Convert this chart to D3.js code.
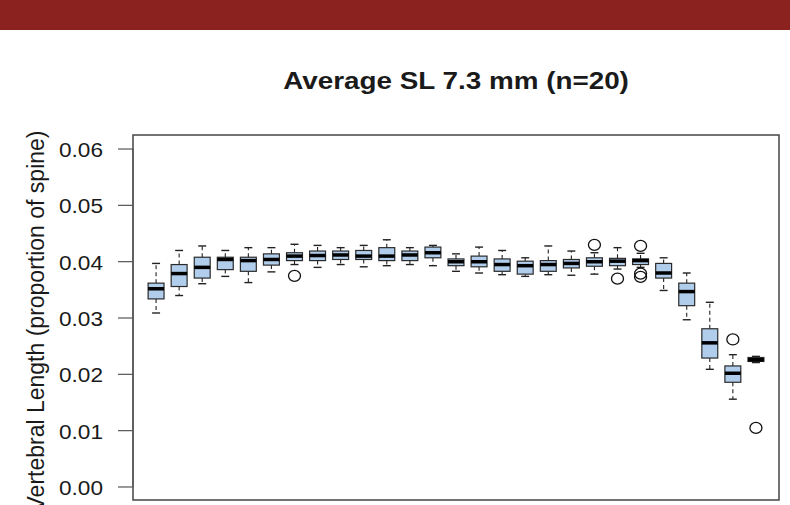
<!DOCTYPE html>
<html>
<head>
<meta charset="utf-8">
<script src="https://cdn.jsdelivr.net/npm/d3@7"></script>
<style>
  html, body { margin: 0; padding: 0; background: #fff; }
  svg { display: block; }
  text { font-family: "Liberation Sans", Arial, Helvetica, sans-serif; fill: #1a1a1a; }
</style>
</head>
<body>
<svg id="chart" width="790" height="505"></svg>
<script>
// ---- Data ----
const vertebrae   = [1,2,3,4,5,6,7,8,9,10,11,12,13,14,15,16,17,18,19,20,21,22,23,24,25,26,27];
const whiskerLow  = [0.0308,0.0339,0.0360,0.0373,0.0362,0.0381,0.0394,0.0389,0.0394,0.0390,0.0392,0.0394,0.0392,0.0382,0.0379,0.0376,0.0373,0.0376,0.0375,0.0377,0.0386,0.0389,0.0348,0.0296,0.0208,0.0155,0.0220];
const quart1      = [0.0333,0.0355,0.0370,0.0385,0.0382,0.0393,0.0401,0.0401,0.0403,0.0403,0.0401,0.0401,0.0406,0.0392,0.0390,0.0382,0.0377,0.0382,0.0388,0.0391,0.0392,0.0394,0.0370,0.0321,0.0228,0.0185,0.0222];
const medians     = [0.0351,0.0378,0.0389,0.0403,0.0401,0.0403,0.0409,0.0410,0.0411,0.0409,0.0409,0.0411,0.0415,0.0399,0.0399,0.0394,0.0392,0.0394,0.0396,0.0399,0.0400,0.0401,0.0379,0.0346,0.0255,0.0201,0.0225];
const quart3      = [0.0361,0.0394,0.0407,0.0407,0.0407,0.0413,0.0415,0.0418,0.0418,0.0419,0.0424,0.0418,0.0425,0.0404,0.0409,0.0404,0.0400,0.0401,0.0403,0.0406,0.0405,0.0404,0.0396,0.0361,0.0280,0.0214,0.0229];
const whiskerHigh = [0.0396,0.0419,0.0427,0.0419,0.0424,0.0424,0.0430,0.0428,0.0424,0.0428,0.0438,0.0424,0.0428,0.0413,0.0425,0.0419,0.0406,0.0427,0.0418,0.0415,0.0424,0.0414,0.0406,0.0379,0.0327,0.0234,0.0231];
const outlierVertebra = [7, 20, 21, 22, 22, 22, 26, 27];
const outlierValue    = [0.0374, 0.0429, 0.0369, 0.0427, 0.0378, 0.0372, 0.0261, 0.0104];
const yTicks      = [0, 0.01, 0.02, 0.03, 0.04, 0.05, 0.06];
const yTickLabels = ["0.00","0.01","0.02","0.03","0.04","0.05","0.06"];
const titleText   = "Average SL 7.3 mm (n=20)";
const yLabelText  = "Vertebral Length (proportion of spine)";

// ---- Layout ----
const svg = d3.select("#chart");
const W = 790, H = 505;
const plot = {left: 133, right: 779, top: 135, bottom: 500};
const sx = 1.16; // horizontal stretch of glyphs in the reference

// banner
svg.append("rect").attr("x", 0).attr("y", 0).attr("width", W).attr("height", 30).attr("fill", "#8b2220");

const x = d3.scaleLinear().domain([0, 28]).range([plot.left, plot.right]);
const y = d3.scaleLinear().domain([-0.0024, 0.0624]).range([plot.bottom, plot.top]);

const unit = x(1) - x(0);
const boxW = unit * 0.69;
const stapleW = boxW * 0.5;

const boxes = vertebrae.map((v, i) => ({
  v, lo: whiskerLow[i], q1: quart1[i], med: medians[i], q3: quart3[i], hi: whiskerHigh[i]
}));

const g = svg.append("g");

// whiskers (dashed)
g.selectAll("line.wh-up").data(boxes).enter().append("line")
  .attr("x1", d => x(d.v)).attr("x2", d => x(d.v))
  .attr("y1", d => y(d.q3)).attr("y2", d => y(d.hi))
  .attr("stroke", "#222").attr("stroke-width", 1.1).attr("stroke-dasharray", "4,3");
g.selectAll("line.wh-lo").data(boxes).enter().append("line")
  .attr("x1", d => x(d.v)).attr("x2", d => x(d.v))
  .attr("y1", d => y(d.q1)).attr("y2", d => y(d.lo))
  .attr("stroke", "#222").attr("stroke-width", 1.1).attr("stroke-dasharray", "4,3");
// staples
g.selectAll("line.st-up").data(boxes).enter().append("line")
  .attr("x1", d => x(d.v) - stapleW / 2).attr("x2", d => x(d.v) + stapleW / 2)
  .attr("y1", d => y(d.hi)).attr("y2", d => y(d.hi))
  .attr("stroke", "#222").attr("stroke-width", 1.4);
g.selectAll("line.st-lo").data(boxes).enter().append("line")
  .attr("x1", d => x(d.v) - stapleW / 2).attr("x2", d => x(d.v) + stapleW / 2)
  .attr("y1", d => y(d.lo)).attr("y2", d => y(d.lo))
  .attr("stroke", "#222").attr("stroke-width", 1.4);
// boxes
g.selectAll("rect.box").data(boxes).enter().append("rect")
  .attr("x", d => x(d.v) - boxW / 2).attr("width", boxW)
  .attr("y", d => y(d.q3)).attr("height", d => y(d.q1) - y(d.q3))
  .attr("fill", "#b1cdec").attr("stroke", "#2a2a2a").attr("stroke-width", 1.2);
// medians
g.selectAll("line.med").data(boxes).enter().append("line")
  .attr("x1", d => x(d.v) - boxW / 2).attr("x2", d => x(d.v) + boxW / 2)
  .attr("y1", d => y(d.med)).attr("y2", d => y(d.med))
  .attr("stroke", "#000").attr("stroke-width", 3.5);
// outliers
g.selectAll("ellipse.out").data(outlierVertebra.map((v, i) => ({v, val: outlierValue[i]})))
  .enter().append("ellipse")
  .attr("cx", d => x(d.v)).attr("cy", d => y(d.val))
  .attr("rx", 6.0).attr("ry", 5.5)
  .attr("fill", "none").attr("stroke", "#111").attr("stroke-width", 1.3);

// plot frame
svg.append("rect")
  .attr("x", plot.left).attr("y", plot.top)
  .attr("width", plot.right - plot.left).attr("height", plot.bottom - plot.top)
  .attr("fill", "none").attr("stroke", "#444").attr("stroke-width", 1.5);

// y axis
const yAxis = d3.axisLeft(y).tickValues(yTicks)
  .tickFormat((d, i) => yTickLabels[i]).tickSize(15).tickSizeOuter(0);
const ax = svg.append("g").attr("transform", `translate(${plot.left},0)`).call(yAxis);
ax.select(".domain").remove();
ax.append("line").attr("x1", 0).attr("x2", 0)
  .attr("y1", y(yTicks[0])).attr("y2", y(yTicks[yTicks.length - 1]))
  .attr("stroke", "#555").attr("stroke-width", 1.2);
ax.selectAll(".tick line").attr("stroke", "#555").attr("stroke-width", 1.2);
ax.selectAll(".tick text")
  .attr("x", -30 / sx).attr("dy", "0.41em")
  .attr("transform", `scale(${sx},1)`)
  .style("font-size", "19.5px")
  .style("font-family", "'Liberation Sans', Arial, sans-serif")
  .attr("fill", "#1a1a1a");

// title
svg.append("text")
  .attr("transform", `translate(456,89) scale(${sx},1)`)
  .attr("text-anchor", "middle")
  .style("font-size", "24px").style("font-weight", "bold")
  .text(titleText);

// y label
svg.append("text")
  .attr("transform", `translate(44,321) scale(1.05,1) rotate(-90)`)
  .attr("text-anchor", "middle")
  .style("font-size", "23px")
  .text(yLabelText);
</script>
</body>
</html>
